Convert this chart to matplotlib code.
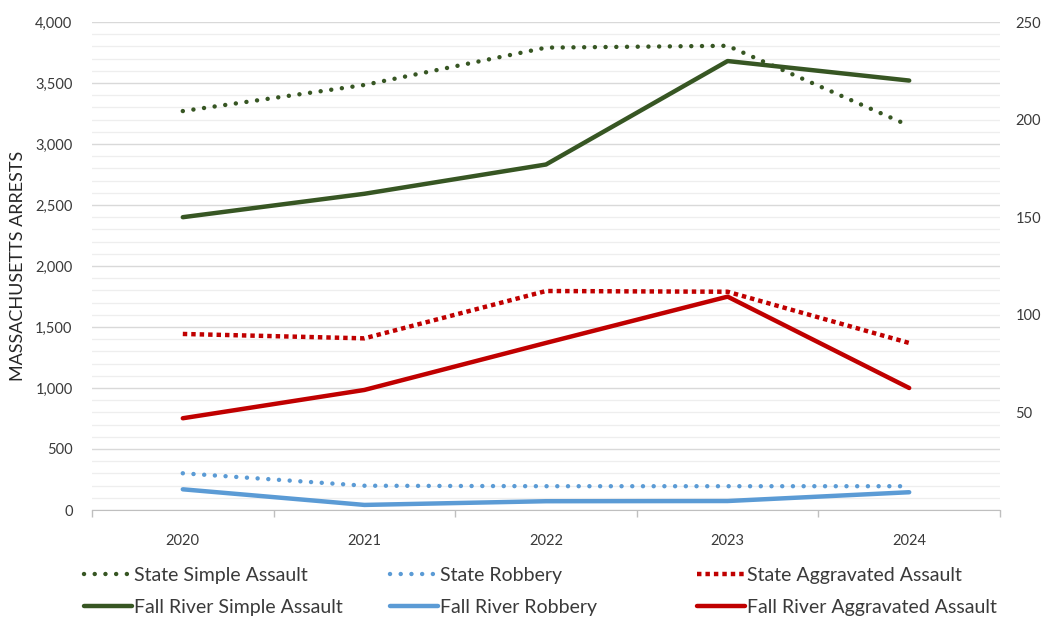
import matplotlib
matplotlib.use('Agg')
import matplotlib.pyplot as plt

plt.rcParams['font.family'] = ['Lato', 'DejaVu Sans']

# 数据
years = ['2020', '2021', '2022', '2023', '2024']

# 左轴：州数据
state_simple = [3270, 3484, 3790, 3805, 3150]
state_robbery = [301, 199, 195, 195, 195]
state_aggravated = [1443, 1407, 1795, 1789, 1369]

# 右轴：Fall River 数据
fr_simple = [150, 162, 177, 230, 220]
fr_robbery = [10.6, 2.6, 4.5, 4.6, 9.1]
fr_aggravated = [47, 61.5, 85.6, 109.3, 62.5]

green = '#375623'
blue = '#5b9bd5'
red = '#c00000'
text_color = '#3a3a3a'
W, H = 1042, 622

fig = plt.figure(figsize=(W / 100, H / 100), dpi=100)
ax = fig.add_axes([92 / W, 1 - 510 / H, (1000 - 92) / W, (510 - 22) / H])
ax2 = ax.twinx()

x = list(range(len(years)))
lw = 3.2
round_dot = dict(linestyle=(0, (0.01, 2.4)), dash_capstyle='round')
square_dot = dict(linestyle=(0, (1.0, 0.9)), dash_capstyle='butt')

l1, = ax.plot(x, state_simple, color=green, lw=lw, label='State Simple Assault', **round_dot)
l2, = ax.plot(x, state_robbery, color=blue, lw=lw, label='State Robbery', **round_dot)
l3, = ax.plot(x, state_aggravated, color=red, lw=lw, label='State Aggravated Assault', **square_dot)
l4, = ax2.plot(x, fr_simple, color=green, lw=lw, label='Fall River Simple Assault', solid_capstyle='round')
l5, = ax2.plot(x, fr_robbery, color=blue, lw=lw, label='Fall River Robbery', solid_capstyle='round')
l6, = ax2.plot(x, fr_aggravated, color=red, lw=lw, label='Fall River Aggravated Assault', solid_capstyle='round')

# 坐标轴范围
ax.set_xlim(-0.5, len(years) - 0.5)
ax.set_ylim(0, 4000)
ax2.set_ylim(0, 250)

# 左轴刻度与网格
ax.set_yticks(range(0, 4001, 500))
ax.set_yticklabels([f'{v:,}' for v in range(0, 4001, 500)])
ax.set_yticks(range(0, 4001, 100), minor=True)
ax.grid(which='major', axis='y', color='#d9d9d9', lw=1.0)
ax.grid(which='minor', axis='y', color='#eeeeee', lw=0.9)
ax.set_axisbelow(True)
ax.tick_params(axis='y', which='both', length=0, pad=14, labelsize=10.5, labelcolor=text_color)

# 右轴刻度
ax2.set_yticks([50, 100, 150, 200, 250])
ax2.tick_params(axis='y', length=0, pad=11, labelsize=10.5, labelcolor=text_color)

# x 轴：标签在类别中心，刻度线在类别边界
ax.set_xticks(x)
ax.set_xticklabels(years)
ax.set_xticks([i - 0.5 for i in range(len(years) + 1)], minor=True)
ax.tick_params(axis='x', which='major', length=0, pad=17, labelsize=10.5, labelcolor=text_color)
ax.tick_params(axis='x', which='minor', length=5, color='#bfbfbf', width=1)

for a in (ax, ax2):
    for side in ('top', 'left', 'right'):
        a.spines[side].set_visible(False)
ax2.spines['bottom'].set_visible(False)
ax.spines['bottom'].set_color('#bfbfbf')

fig.text(18 / W, 1 - 266 / H, 'MASSACHUSETTS ARRESTS', rotation=90, ha='center', va='center',
         fontsize=13, color='#262626')

# 图例：三列，每列两项
columns = [(l1, l4), (l2, l5), (l3, l6)]
col_x = [74, 380, 687]
for cx, hs in zip(col_x, columns):
    fig.legend(hs, [h.get_label() for h in hs], loc='upper left',
               bbox_to_anchor=(cx / W, 1 - 557 / H), frameon=False,
               fontsize=14, handlelength=2.5, handletextpad=0.1,
               labelspacing=0.78, borderpad=0, labelcolor=text_color)

fig.savefig('out.png', dpi=100)
